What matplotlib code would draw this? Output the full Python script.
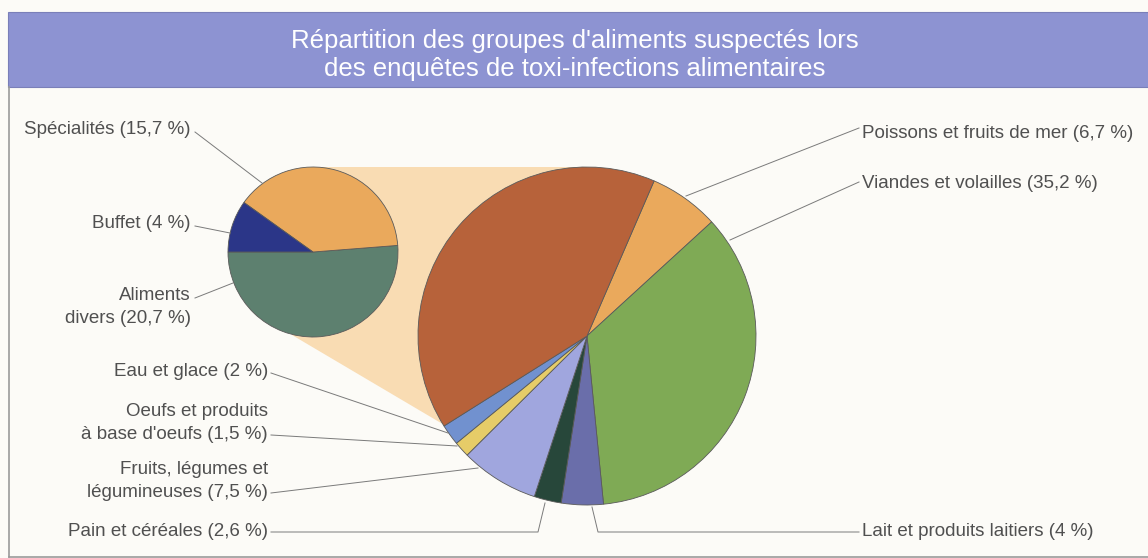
import matplotlib.pyplot as plt
from matplotlib.patches import Polygon, Rectangle

plt.rcParams["font.family"] = ["Liberation Sans", "DejaVu Sans"]

W, H = 1148, 558

# Big pie: main food groups (%), clockwise from the top-right
main_labels = [
    "Poissons et fruits de mer (6,7 %)",
    "Viandes et volailles (35,2 %)",
    "Lait et produits laitiers (4 %)",
    "Pain et céréales (2,6 %)",
    "Fruits, légumes et\nlégumineuses (7,5 %)",
    "Oeufs et produits\nà base d'oeufs (1,5 %)",
    "Eau et glace (2 %)",
    "",
]
main_values = [6.7, 35.2, 4.0, 2.6, 7.5, 1.5, 2.0, 40.4]
main_colors = ["#eaa95c", "#7faa55", "#6a6eaa", "#27473a", "#a0a6de",
               "#e6cc68", "#7191cf", "#b7623a"]

# Small pie: breakdown of the 40.4 % slice
sub_labels = ["Aliments\ndivers (20,7 %)", "Spécialités (15,7 %)", "Buffet (4 %)"]
sub_values = [20.7, 15.7, 4.0]
sub_colors = ["#5d806f", "#eaa95c", "#2b3688"]

title = ("Répartition des groupes d'aliments suspectés lors\n"
         "des enquêtes de toxi-infections alimentaires")


def Y(y):
    # picture rows -> data coords (y up)
    return H - y


fig = plt.figure(figsize=(W / 100, H / 100), dpi=100)
fig.patch.set_facecolor("#fcfbf7")
ax = fig.add_axes([0, 0, 1, 1])

big_c, big_r = (587, Y(336)), 169
small_c, small_r = (313, Y(252)), 85

# zoom connector behind the pies
ax.add_patch(Polygon([(313, Y(167)), (587, Y(167)), big_c, (446, Y(426)),
                      (292, Y(335)), small_c],
                     closed=True, facecolor="#f9dcb3", edgecolor="none", zorder=1))

wedge_kw = dict(edgecolor="#5a5a5a", linewidth=0.6)
ax.pie(main_values, colors=main_colors, startangle=66.6, counterclock=False,
       center=big_c, radius=big_r, wedgeprops=wedge_kw, frame=True)
ax.pie(sub_values, colors=sub_colors, startangle=180, counterclock=True,
       center=small_c, radius=small_r, wedgeprops=wedge_kw, frame=True)
for p in ax.patches:
    if p.get_zorder() != 1:
        p.set_zorder(2)

# title band
ax.add_patch(Rectangle((8, Y(87)), W, 75, facecolor="#8d93d2", edgecolor="#7a7fb8",
                       linewidth=0.8, zorder=3))
ax.text(575, Y(55), title, ha="center", va="center", color="white",
        fontsize=18.5, linespacing=1.17, zorder=4)

# frame lines
ax.plot([9, 9], [Y(87), Y(557)], color="#9a9a9a", lw=1.2, zorder=3)
ax.plot([9, W], [Y(557), Y(557)], color="#9a9a9a", lw=1.2, zorder=3)

# labels and leader lines
txt_kw = dict(color="#505050", fontsize=13.5, va="center", linespacing=1.4, zorder=4)
line_kw = dict(color="#7a7a7a", lw=0.7, zorder=4)

ax.text(862, Y(133), main_labels[0], ha="left", **txt_kw)
ax.plot([859, 686], [Y(128), Y(196)], **line_kw)
ax.text(862, Y(183), main_labels[1], ha="left", **txt_kw)
ax.plot([859, 730], [Y(182), Y(240)], **line_kw)
ax.text(862, Y(532), main_labels[2], ha="left", **txt_kw)
ax.plot([859, 598, 592], [Y(532), Y(532), Y(507)], **line_kw)

ax.text(268, Y(532), main_labels[3], ha="right", multialignment="right", **txt_kw)
ax.plot([271, 538, 545], [Y(532), Y(532), Y(503)], **line_kw)
ax.text(268, Y(481), main_labels[4], ha="right", multialignment="right", **txt_kw)
ax.plot([271, 478], [Y(493), Y(468)], **line_kw)
ax.text(268, Y(423), main_labels[5], ha="right", multialignment="right", **txt_kw)
ax.plot([271, 457], [Y(435), Y(446)], **line_kw)
ax.text(268, Y(372), main_labels[6], ha="right", multialignment="right", **txt_kw)
ax.plot([271, 448], [Y(373), Y(433)], **line_kw)

ax.text(191, Y(130), sub_labels[1], ha="right", **txt_kw)
ax.plot([195, 262], [Y(132), Y(183)], **line_kw)
ax.text(191, Y(224), sub_labels[2], ha="right", **txt_kw)
ax.plot([195, 230], [Y(226), Y(233)], **line_kw)
ax.text(191, Y(307), sub_labels[0], ha="right", multialignment="right", **txt_kw)
ax.plot([195, 233], [Y(298), Y(283)], **line_kw)

ax.set_xlim(0, W)
ax.set_ylim(0, H)
ax.set_aspect("equal")
ax.axis("off")

fig.savefig("out.png", dpi=100, facecolor=fig.get_facecolor())
